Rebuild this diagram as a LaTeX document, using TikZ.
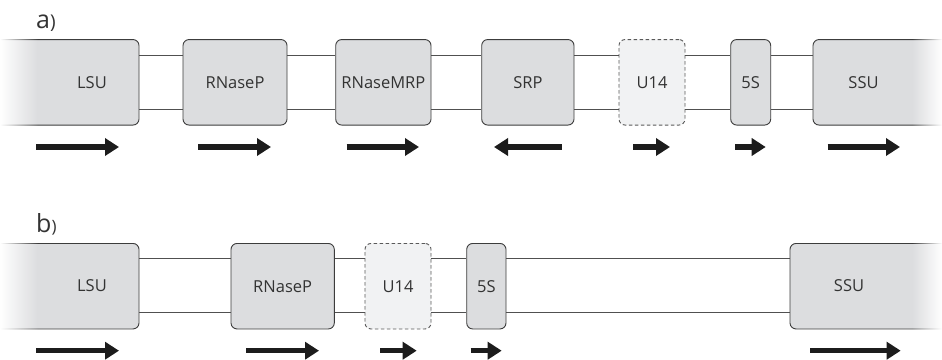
\documentclass[tikz,border=0pt]{standalone}
\usepackage{fontspec}
\setmainfont{Open Sans}
\usetikzlibrary{arrows.meta,fadings}

\definecolor{boxfill}{HTML}{DCDDDF}
\definecolor{ghostfill}{HTML}{F1F2F3}
\definecolor{boxline}{HTML}{3C3C3C}
\definecolor{txt}{HTML}{333333}
\definecolor{arrowc}{HTML}{1C1C1C}

\tikzfading[name=fade right, left color=transparent!0, right color=transparent!100]
\tikzfading[name=fade left, left color=transparent!100, right color=transparent!0]

\tikzset{
  gene/.style={draw=boxline, line width=0.9pt, fill=boxfill, rounded corners=6pt,
    inner sep=0pt, minimum height=85.5pt, text=txt,
    font=\fontsize{16.5}{18}\selectfont},
  ghost/.style={gene, fill=ghostfill, draw=boxline!85,
    dash pattern=on 3.5pt off 2.5pt},
  genetext/.style={text=txt, font=\fontsize{16.5}{18}\selectfont, inner sep=0pt},
  link/.style={draw=boxline!90, line width=0.8pt},
  dir/.style={draw=arrowc, line width=5.5pt,
    -{Triangle[length=14pt,width=17pt]}},
  panel/.style={text=txt, inner sep=0pt, anchor=base west},
}

% box with left/right edges x1,x2 and vertical centre y
\newcommand\genebox[6][gene]{%
  \node[#1, minimum width={#4-#3}] (#2) at ({(#3+#4)/2},#5) {#6};}

\begin{document}
\begin{tikzpicture}[x=1pt,y=-1pt]
\useasboundingbox (0,0) rectangle (942,359);

% ---------------- panel a ----------------
\node[panel] (la) at (36,28.5) {\fontsize{25}{25}\selectfont a\fontsize{19}{19}\selectfont)};

\genebox{alsu}{-20}{139}{82.3}{}
\genebox{arnp}{183}{287}{82.3}{RNaseP}
\genebox{amrp}{335.7}{431}{82.3}{RNaseMRP}
\genebox{asrp}{481.7}{574}{82.3}{SRP}
\genebox[ghost]{au14}{619}{685}{82.3}{U14}
\genebox{afive}{730.7}{770.7}{82.3}{5S}
\genebox{assu}{813}{960}{82.3}{}
\node[genetext] (alsut) at (92,82.5) {LSU};
\node[genetext] (assut) at (863.5,82.5) {SSU};

\foreach \a/\b in {alsu/arnp, arnp/amrp, amrp/asrp, asrp/au14, au14/afive, afive/assu}{
  \draw[link] ([yshift=-16pt]\a.north east) -- ([yshift=-16pt]\b.north west);
  \draw[link] ([yshift=16pt]\a.south east) -- ([yshift=16pt]\b.south west);
}

% fading ends of the flanking genes
\fill[white, path fading=fade right] (0,37) rectangle (38,128);
\fill[white, path fading=fade left] (912,37) rectangle (942,128);

\draw[dir] (36,147) -- (119,147);
\draw[dir] (198,147) -- (271,147);
\draw[dir] (346.7,147) -- (419,147);
\draw[dir] (561.7,147) -- (494,147);
\draw[dir] (633,147) -- (670,147);
\draw[dir] (735,147) -- (765.7,147);
\draw[dir] (827.7,147) -- (900,147);

% ---------------- panel b ----------------
\node[panel] (lb) at (36,232.3) {\fontsize{25}{25}\selectfont b\fontsize{17}{17}\selectfont)};

\genebox{blsu}{-20}{139}{286.2}{}
\genebox{brnp}{231}{334.3}{286.2}{RNaseP}
\genebox[ghost]{bu14}{365}{431}{286.2}{U14}
\genebox{bfive}{466.7}{506}{286.2}{5S}
\genebox{bssu}{790}{960}{286.2}{}
\node[genetext] (blsut) at (92,285.5) {LSU};
\node[genetext] (bssut) at (849,285.5) {SSU};

\foreach \a/\b in {blsu/brnp, brnp/bu14, bu14/bfive, bfive/bssu}{
  \draw[link] ([yshift=-15pt]\a.north east) -- ([yshift=-15pt]\b.north west);
  \draw[link] ([yshift=17pt]\a.south east) -- ([yshift=17pt]\b.south west);
}

\fill[white, path fading=fade right] (0,241) rectangle (38,332);
\fill[white, path fading=fade left] (912,241) rectangle (942,332);

\draw[dir] (36,350.7) -- (119,350.7);
\draw[dir] (246,350.7) -- (319,350.7);
\draw[dir] (380,350.7) -- (416.7,350.7);
\draw[dir] (470.7,350.7) -- (501.7,350.7);
\draw[dir] (810,350.7) -- (900.7,350.7);
\end{tikzpicture}
\end{document}
